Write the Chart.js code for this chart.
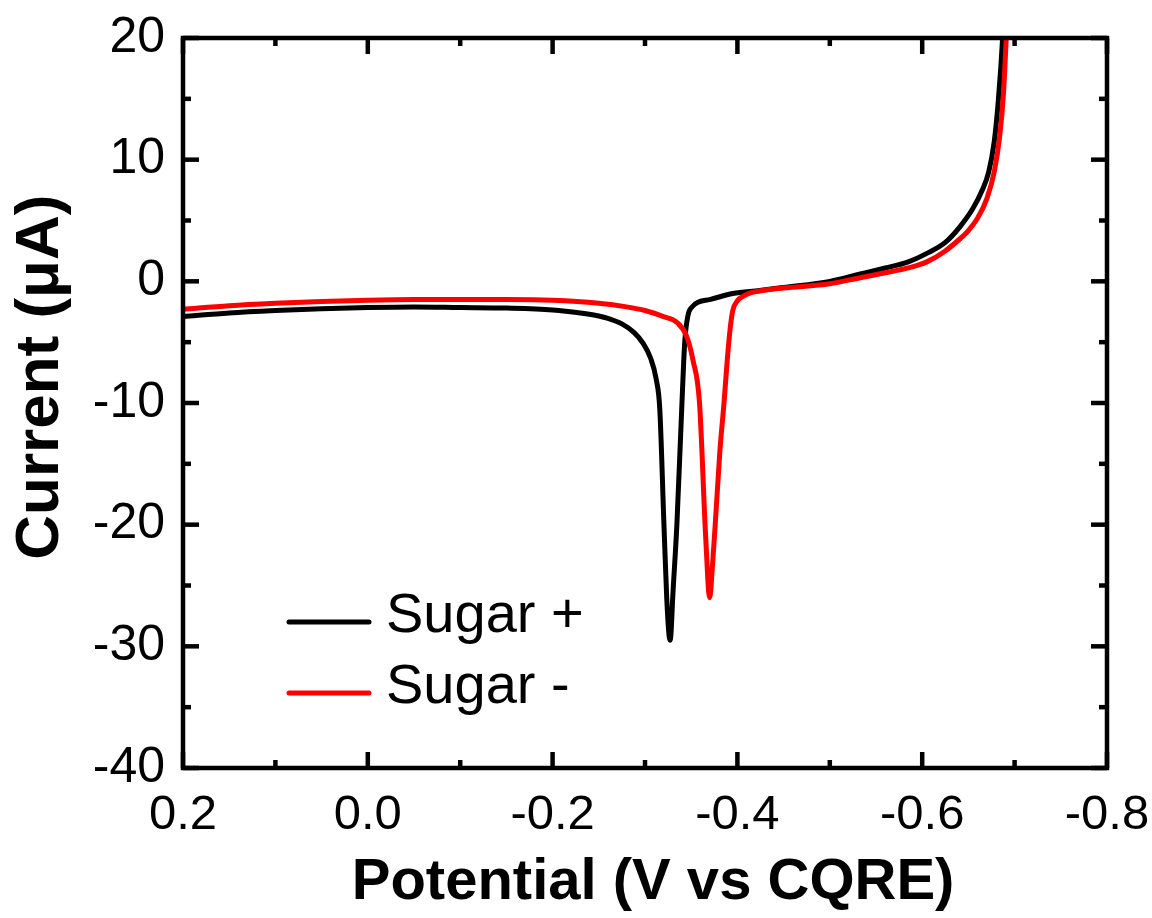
<!DOCTYPE html>
<html>
<head>
<meta charset="utf-8">
<script src="https://cdn.jsdelivr.net/npm/chart.js@4.4.0/dist/chart.umd.min.js"></script>
<style>
  html, body { margin: 0; padding: 0; background: #fff; }
  #wrap { width: 1152px; height: 918px; }
</style>
</head>
<body>
<div id="wrap"><canvas id="cv" width="1152" height="918"></canvas></div>
<script>
// ------------- data -------------
const sugarPlusV = [0.2, 0.15, 0.1, 0.05, 0.0, -0.05, -0.1, -0.15, -0.2, -0.23, -0.25, -0.26, -0.275,
    -0.288, -0.298, -0.306, -0.312, -0.316, -0.3205, -0.3235, -0.326, -0.327, -0.328, -0.330, -0.3345,
    -0.340, -0.343, -0.3465, -0.351, -0.358, -0.37, -0.395, -0.424, -0.45, -0.5, -0.533, -0.56,
    -0.585, -0.605, -0.625, -0.641, -0.655, -0.665, -0.672, -0.678, -0.682, -0.685, -0.687];
const sugarPlusI = [-2.9, -2.6, -2.4, -2.25, -2.15, -2.1, -2.15, -2.2, -2.35, -2.6, -2.85, -3.05, -3.5,
    -4.2, -5.1, -6.3, -8.0, -10.5, -20, -26, -29.1, -29.5, -29.1, -26, -20,
    -10, -5.0, -2.8, -2.1, -1.7, -1.5, -1.0, -0.75, -0.5, 0.0, 0.6, 1.1,
    1.6, 2.3, 3.2, 4.5, 6.0, 7.5, 9.0, 11.5, 14.5, 17.5, 20];

const sugarMinusV = [0.2, 0.15, 0.1, 0.05, 0.0, -0.05, -0.1, -0.15, -0.2, -0.25, -0.28, -0.30, -0.32,
    -0.335, -0.345, -0.352, -0.359, -0.365, -0.368, -0.369, -0.370, -0.371, -0.372, -0.376, -0.381,
    -0.3855, -0.389, -0.392, -0.395, -0.40, -0.407, -0.414, -0.424, -0.45, -0.5, -0.533, -0.56,
    -0.585, -0.605, -0.625, -0.641, -0.648, -0.66, -0.67, -0.678, -0.684, -0.688, -0.691];
const sugarMinusI = [-2.3, -2.0, -1.8, -1.65, -1.55, -1.5, -1.5, -1.5, -1.55, -1.8, -2.1, -2.4, -2.9,
    -3.4, -4.5, -6.5, -10, -20, -24.5, -25.6, -26, -25.6, -24.5, -20, -14,
    -10, -6.5, -4.0, -2.4, -1.6, -1.2, -0.95, -0.8, -0.55, -0.2, 0.3, 0.7,
    1.1, 1.6, 2.5, 3.5, 4.0, 5.2, 6.8, 9.0, 12, 15.5, 20];

const seriesNames = ['Sugar +', 'Sugar -'];
const seriesColors = ['#000000', '#ff0000'];

const xTicks = [0.2, 0.0, -0.2, -0.4, -0.6, -0.8];
const xMinorTicks = [0.1, -0.1, -0.3, -0.5, -0.7];
const yTicks = [20, 10, 0, -10, -20, -30, -40];
const yMinorTicks = [15, 5, -5, -15, -25, -35];

const FONT = '"Liberation Sans", Arial, sans-serif';

function toPoints(xs, ys) {
    return xs.map((x, i) => ({ x: x, y: ys[i] }));
}

// ------------- frame with inward ticks --------------
const framePlugin = {
    id: 'frame',
    afterDatasetsDraw(chart) {
        const ctx = chart.ctx;
        const a = chart.chartArea;
        const sx = chart.scales.x;
        const sy = chart.scales.y;
        ctx.save();
        ctx.strokeStyle = '#000';
        ctx.lineWidth = 4.5;
        ctx.lineCap = 'butt';
        ctx.lineJoin = 'miter';
        function seg(x1, y1, x2, y2) {
            ctx.beginPath();
            ctx.moveTo(x1, y1);
            ctx.lineTo(x2, y2);
            ctx.stroke();
        }
        xTicks.forEach(v => {
            const p = sx.getPixelForValue(v);
            seg(p, a.bottom, p, a.bottom - 16);
            seg(p, a.top, p, a.top + 16);
        });
        xMinorTicks.forEach(v => {
            const p = sx.getPixelForValue(v);
            seg(p, a.bottom, p, a.bottom - 8);
            seg(p, a.top, p, a.top + 8);
        });
        yTicks.forEach(v => {
            const p = sy.getPixelForValue(v);
            seg(a.left, p, a.left + 16, p);
            seg(a.right, p, a.right - 16, p);
        });
        yMinorTicks.forEach(v => {
            const p = sy.getPixelForValue(v);
            seg(a.left, p, a.left + 8, p);
            seg(a.right, p, a.right - 8, p);
        });
        ctx.strokeRect(a.left, a.top, a.right - a.left, a.bottom - a.top);
        ctx.restore();
    }
};

// ------------- legend inside plot --------------
const legendPlugin = {
    id: 'innerLegend',
    afterDraw(chart) {
        const ctx = chart.ctx;
        const rows = [622, 693];
        ctx.save();
        ctx.lineCap = 'round';
        ctx.lineWidth = 5;
        ctx.font = '56px ' + FONT;
        ctx.textBaseline = 'middle';
        ctx.textAlign = 'left';
        seriesNames.forEach((name, i) => {
            ctx.strokeStyle = seriesColors[i];
            ctx.beginPath();
            ctx.moveTo(289, rows[i]);
            ctx.lineTo(369, rows[i]);
            ctx.stroke();
            ctx.fillStyle = '#000';
            ctx.fillText(name, 386, rows[i] - 5);
        });
        ctx.restore();
    }
};

const chart = new Chart(document.getElementById('cv').getContext('2d'), {
    type: 'line',
    data: {
        datasets: [{
            label: seriesNames[0],
            data: toPoints(sugarPlusV, sugarPlusI),
            borderColor: seriesColors[0],
            borderWidth: 5,
            pointRadius: 0,
            cubicInterpolationMode: 'monotone',
            order: 1
        }, {
            label: seriesNames[1],
            data: toPoints(sugarMinusV, sugarMinusI),
            borderColor: seriesColors[1],
            borderWidth: 5,
            pointRadius: 0,
            cubicInterpolationMode: 'monotone',
            order: 0
        }]
    },
    options: {
        responsive: false,
        animation: false,
        devicePixelRatio: 1,
        layout: { padding: { left: 0, right: 45, top: 38, bottom: 0 } },
        plugins: { legend: { display: false }, tooltip: { enabled: false } },
        scales: {
            x: {
                type: 'linear',
                min: -0.8,
                max: 0.2,
                reverse: true,
                afterBuildTicks: s => { s.ticks = xTicks.map(v => ({ value: v })); },
                afterFit: s => {
                    s.height = 150;
                    s.paddingLeft = 0;
                    s.paddingRight = 0;
                },
                grid: { display: false, drawTicks: false },
                border: { display: false },
                ticks: {
                    color: '#000',
                    padding: 18,
                    maxRotation: 0,
                    font: { family: FONT, size: 49 },
                    callback: v => Number(v).toFixed(1)
                },
                title: {
                    display: true,
                    // leading space nudges the title slightly right, as in the original
                    text: ' Potential (V vs CQRE)',
                    color: '#000',
                    padding: { top: 0, bottom: 0 },
                    font: { family: FONT, size: 58, weight: 'bold' }
                }
            },
            y: {
                type: 'linear',
                min: -40,
                max: 20,
                afterBuildTicks: s => { s.ticks = yTicks.map(v => ({ value: v })); },
                afterFit: s => {
                    s.width = 183;
                    s.paddingTop = 0;
                    s.paddingBottom = 0;
                },
                grid: { display: false, drawTicks: false },
                border: { display: false },
                ticks: {
                    color: '#000',
                    padding: 18,
                    font: { family: FONT, size: 50 },
                    callback: v => String(v)
                },
                title: {
                    display: true,
                    // leading spaces lift the title up a bit, as in the original
                    text: '   Current (μA)',
                    color: '#000',
                    padding: { top: 4, bottom: 0 },
                    font: { family: FONT, size: 62, weight: 'bold' }
                }
            }
        }
    },
    plugins: [framePlugin, legendPlugin]
});
</script>
</body>
</html>
